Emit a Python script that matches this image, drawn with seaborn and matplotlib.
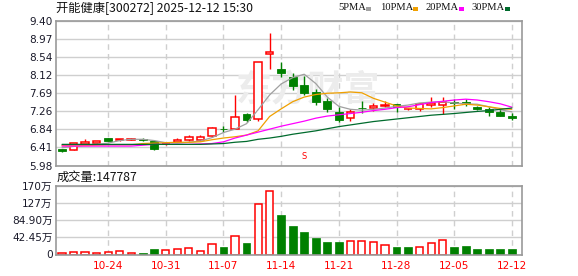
import matplotlib
matplotlib.use('Agg')
import matplotlib.pyplot as plt
import seaborn as sns
import pandas as pd
from matplotlib.patches import Rectangle

sns.set_theme(style='white')
plt.rcParams['font.family'] = ['DejaVu Sans', 'Noto Sans CJK SC']

# ---------------- data ----------------
dates = ['10-20', '10-21', '10-22', '10-23', '10-24', '10-27', '10-28', '10-29', '10-30', '10-31',
         '11-03', '11-04', '11-05', '11-06', '11-07', '11-10', '11-11', '11-12', '11-13', '11-14',
         '11-17', '11-18', '11-19', '11-20', '11-21', '11-24', '11-25', '11-26', '11-27', '11-28',
         '12-01', '12-02', '12-03', '12-04', '12-05', '12-08', '12-09', '12-10', '12-11', '12-12']
opens = [6.37, 6.35, 6.49, 6.52, 6.63, 6.59, 6.59, 6.61, 6.56, 6.48,
         6.545, 6.59, 6.59, 6.69, 6.85, 6.84, 7.19, 7.07, 8.61, 8.26,
         8.07, 7.89, 7.71, 7.51, 7.25, 7.10, 7.34, 7.33, 7.40, 7.43,
         7.31, 7.31, 7.41, 7.42, 7.48, 7.49, 7.37, 7.32, 7.25, 7.15]
highs = [6.38, 6.51, 6.61, 6.57, 6.63, 6.61, 6.63, 6.63, 6.57, 6.52,
         6.64, 6.70, 6.70, 6.90, 6.92, 7.65, 7.23, 8.42, 9.12, 8.44,
         8.16, 8.10, 7.79, 7.57, 7.36, 7.32, 7.51, 7.47, 7.51, 7.44,
         7.33, 7.47, 7.59, 7.61, 7.55, 7.55, 7.40, 7.37, 7.31, 7.23]
lows = [6.29, 6.35, 6.49, 6.51, 6.555, 6.56, 6.59, 6.55, 6.35, 6.47,
        6.545, 6.56, 6.56, 6.66, 6.77, 6.84, 7.00, 7.04, 8.27, 8.07,
        7.77, 7.64, 7.41, 7.25, 7.02, 7.04, 7.23, 7.28, 7.37, 7.24,
        7.30, 7.28, 7.36, 7.20, 7.31, 7.40, 7.29, 7.15, 7.16, 7.06]
closes = [6.33, 6.51, 6.545, 6.56, 6.57, 6.61, 6.61, 6.59, 6.36, 6.50,
          6.585, 6.65, 6.66, 6.87, 6.84, 7.12, 7.06, 8.42, 8.67, 8.18,
          7.86, 7.69, 7.49, 7.31, 7.06, 7.25, 7.33, 7.39, 7.41, 7.37,
          7.32, 7.43, 7.47, 7.49, 7.47, 7.44, 7.32, 7.25, 7.16, 7.11]

ma5 = [6.40, 6.43, 6.46, 6.48, 6.51, 6.57, 6.60, 6.60, 6.57, 6.52,
       6.51, 6.53, 6.56, 6.64, 6.76, 6.84, 6.97, 7.30, 7.65, 7.91,
       8.06, 8.14, 7.92, 7.60, 7.38, 7.31, 7.29, 7.31, 7.34, 7.38,
       7.41, 7.46, 7.48, 7.49, 7.46, 7.44, 7.43, 7.37, 7.30, 7.25]
ma10 = [6.45, 6.45, 6.45, 6.46, 6.47, 6.47, 6.47, 6.50, 6.51, 6.52,
        6.53, 6.53, 6.54, 6.59, 6.63, 6.66, 6.70, 6.80, 7.14, 7.32,
        7.49, 7.60, 7.66, 7.69, 7.70, 7.72, 7.70, 7.57, 7.48, 7.39,
        7.34, 7.33, 7.32, 7.35, 7.39, 7.43, 7.41, 7.37, 7.33, 7.31]
ma20 = [6.44, 6.44, 6.44, 6.44, 6.44, 6.44, 6.44, 6.46, 6.48, 6.48,
        6.48, 6.48, 6.49, 6.50, 6.54, 6.63, 6.70, 6.77, 6.84, 6.91,
        6.97, 7.03, 7.10, 7.15, 7.18, 7.21, 7.24, 7.28, 7.31, 7.35,
        7.37, 7.42, 7.47, 7.50, 7.53, 7.55, 7.53, 7.49, 7.44, 7.36]
ma30 = [6.48, 6.48, 6.48, 6.48, 6.48, 6.48, 6.48, 6.48, 6.48, 6.48,
        6.48, 6.48, 6.48, 6.49, 6.50, 6.53, 6.55, 6.60, 6.63, 6.67,
        6.72, 6.76, 6.80, 6.85, 6.90, 6.94, 6.98, 7.02, 7.05, 7.08,
        7.11, 7.14, 7.17, 7.19, 7.21, 7.235, 7.26, 7.28, 7.31, 7.34]

vol_wan = [3.3, 5.8, 5.8, 3.3, 5.8, 8.3, 3.3, 3.3, 13.3, 10.8,
           12.4, 14.9, 8.3, 24.9, 18.2, 44.8, 28.2, 125.2, 156.7, 97.8,
           70.5, 56.4, 40.6, 30.7, 30.7, 33.2, 33.2, 30.7, 23.2, 18.2,
           18.2, 17.4, 27.4, 35.6, 18.2, 20.7, 13.3, 13.3, 13.3, 14.8]
vol_up = [1, 1, 1, 1, 1, 1, 1, 0, 0, 1,
          1, 1, 1, 1, 0, 1, 0, 1, 1, 0,
          0, 0, 0, 0, 0, 1, 1, 1, 1, 0,
          0, 1, 1, 1, 0, 0, 0, 0, 0, 0]

price_ticks = [9.40, 8.9725, 8.545, 8.1175, 7.69, 7.2625, 6.835, 6.4075, 5.98]
price_labels = ['9.40', '8.97', '8.54', '8.12', '7.69', '7.26', '6.84', '6.41', '5.98']
vol_ticks = [0, 42.45, 84.90, 127.35, 169.8]
vol_labels = ['0', '42.45万', '84.90万', '127万', '170万']
date_ticks = ['10-24', '10-31', '11-07', '11-14', '11-21', '11-28', '12-05', '12-12']

ma_names = ['5PMA', '10PMA', '20PMA', '30PMA']
ma_colors = ['#a0a0a0', '#f0a000', '#ff00ff', '#006b2d']

RED = '#ff0000'
GREEN = '#008000'
GRID = '#cfcfcf'
FRAME = '#999999'

# ---------------- figure ----------------
W, H = 578, 276
fig = plt.figure(figsize=(W / 100, H / 100), dpi=100)


def rect(l, t, r, b):
    return [l / W, 1 - b / H, (r - l) / W, (b - t) / H]


ax = fig.add_axes(rect(56, 21, 522, 165.5))
axv = fig.add_axes(rect(56, 186, 522, 254.5))

days = list(range(len(dates)))
tick_pos = [dates.index(d) for d in date_ticks]
XL = (-0.52, 39.88)

# candles
for i in days:
    up = closes[i] >= opens[i]
    col = RED if up else GREEN
    ax.vlines(i, lows[i], highs[i], color=col, lw=1.0, zorder=2)
    bot = min(opens[i], closes[i])
    hgt = max(abs(closes[i] - opens[i]), 0.006)
    if up:
        ax.bar(i, hgt, bottom=bot, width=0.66, facecolor='white', edgecolor=col,
               linewidth=1.1, zorder=2.5)
    else:
        ax.bar(i, hgt, bottom=bot, width=0.68, facecolor=col, edgecolor=col,
               linewidth=0.6, zorder=2.5)

# moving averages
ma_df = pd.DataFrame({
    'day': days * 4,
    'value': ma5 + ma10 + ma20 + ma30,
    'ma': sum([[n] * len(days) for n in ma_names], []),
})
sns.lineplot(data=ma_df, x='day', y='value', hue='ma', hue_order=ma_names,
             palette=dict(zip(ma_names, ma_colors)), linewidth=0.9,
             legend=False, ax=ax, zorder=3)

ax.set_xlim(*XL)
ax.set_ylim(5.98, 9.40)
ax.set_yticks(price_ticks)
ax.set_yticklabels(price_labels)
ax.set_xticks(tick_pos)
ax.set_xticklabels([])
ax.set_xlabel('')
ax.set_ylabel('')

# volume
for i in days:
    if vol_up[i]:
        axv.bar(i, vol_wan[i], width=0.62, facecolor='white', edgecolor=RED,
                linewidth=1.1, zorder=2)
    else:
        axv.bar(i, vol_wan[i], width=0.68, facecolor=GREEN, edgecolor=GREEN,
                linewidth=0.5, zorder=2)
axv.set_xlim(*XL)
axv.set_ylim(0, 169.8)
axv.set_yticks(vol_ticks)
axv.set_yticklabels(vol_labels)
axv.set_xticks(tick_pos)
axv.set_xticklabels(date_ticks)

for a in (ax, axv):
    a.set_axisbelow(True)
    a.grid(axis='y', color=GRID, lw=1.0, ls='-')
    a.grid(axis='x', color=GRID, lw=1.0, ls=(0, (4, 3)))
    for s in a.spines.values():
        s.set_visible(True)
        s.set_color(FRAME)
        s.set_linewidth(1.2)
    a.tick_params(axis='y', length=0, pad=2.5, labelsize=7.6, labelcolor='#1a1a2a')
    a.tick_params(axis='x', length=0)
axv.tick_params(axis='x', pad=5, labelsize=7.6, labelcolor=RED)

# watermark
ax.text(308 / W, 1 - 90 / H, '东方财富', transform=fig.transFigure, ha='center', va='center',
        fontsize=26, fontweight='bold', color='#ececec', family=['Noto Sans CJK SC'], zorder=0.6)

# sell marker
ax.text(21, 6.19, 'S', color=RED, fontsize=6, ha='center', va='center', zorder=4)

# title and labels
fig.text(56 / W, 1 - 8 / H, '开能健康[300272] 2025-12-12 15:30', ha='left', va='center',
         fontsize=8.8, color='#111111', family=['Noto Sans CJK SC', 'DejaVu Sans'])
fig.text(57 / W, 1 - 177 / H, '成交量:147787', ha='left', va='center',
         fontsize=8.8, color='#111111', family=['Noto Sans CJK SC', 'DejaVu Sans'])

leg_text_x = [338, 380, 425, 471]
leg_sq_x = [366, 413, 459, 505]
for name, col, tx, sx in zip(ma_names, ma_colors, leg_text_x, leg_sq_x):
    fig.text(tx / W, 1 - 8 / H, name, ha='left', va='center', fontsize=7.6,
             color='#111111', family=['Liberation Serif'])
    fig.add_artist(Rectangle((sx / W, 1 - 10.5 / H), 5 / W, 3 / H,
                             transform=fig.transFigure, facecolor=col, edgecolor='none'))

fig.savefig('out.png', dpi=100, facecolor='white')
